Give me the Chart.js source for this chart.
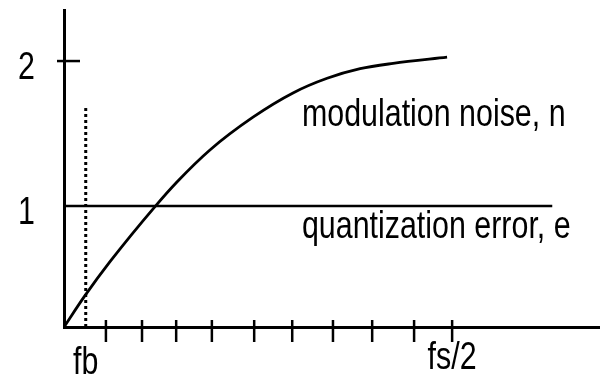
<!DOCTYPE html>
<html>
<head>
<meta charset="utf-8">
<script src="https://cdn.jsdelivr.net/npm/chart.js@4"></script>
<style>
  body { margin: 0; background: #fff; }
  #wrap { width: 600px; height: 377px; position: relative; }
</style>
</head>
<body>
<div id="wrap"><canvas id="c"></canvas></div>
<script>
// modulation noise curve
const noiseX = [0, 0.54, 1.19, 2.35, 2.91, 3.76, 4.87, 5.90, 6.78, 7.63, 8.48, 9.87];
const noiseY = [0.166, 0.382, 0.618, 0.998, 1.166, 1.387, 1.613, 1.780, 1.881, 1.947, 1.984, 2.027];

// quantization error, flat at 1
const quantX = [0, 12.58];
const quantY = [1, 1];

// fb marker (dotted)
const fbX = [0.56, 0.56];
const fbY = [0.166, 1.676];

// axis ticks and labels
const xTickValues = [1.08, 2.01, 2.89, 3.81, 4.90, 5.88, 6.93, 7.94, 9.02, 10];
const xLabelValues = [0.56, 10];
const xLabelTexts = ['fb', 'fs/2'];
const yTickValues = [2];
const yLabelValues = [1, 2];
const yLabelTexts = ['1', '2'];

// curve labels
const noteTexts = ['modulation noise, n', 'quantization error, e'];
const noteX = [6.13, 6.13];
const noteY = [1.552, 0.779];

const FONT = '38px "Liberation Sans", Arial, sans-serif';
const SQUEEZE = 0.8;   // the source lettering is a narrow face

const pts = (xs, ys) => xs.map((x, i) => ({ x, y: ys[i] }));

function narrowText(ctx, text, x, y, align) {
    ctx.save();
    ctx.translate(x, y);
    ctx.scale(SQUEEZE, 1);
    ctx.textAlign = align;
    ctx.fillText(text, 0, 0);
    ctx.restore();
}

const sketchAxes = {
    id: 'sketchAxes',
    afterDraw(chart) {
        const { ctx, scales: { x, y } } = chart;
        const ax = x.getPixelForValue(x.min);
        const ay = y.getPixelForValue(y.min);
        ctx.save();
        ctx.strokeStyle = '#000';
        ctx.lineWidth = 2.5;
        // tick marks cross the axis line
        xTickValues.forEach(v => {
            const px = x.getPixelForValue(v);
            ctx.beginPath();
            ctx.moveTo(px, ay - 7);
            ctx.lineTo(px, ay + 15);
            ctx.stroke();
        });
        yTickValues.forEach(v => {
            const py = y.getPixelForValue(v);
            ctx.beginPath();
            ctx.moveTo(ax - 7, py);
            ctx.lineTo(ax + 16, py);
            ctx.stroke();
        });

        ctx.fillStyle = '#000';
        ctx.font = FONT;
        ctx.textBaseline = 'alphabetic';
        yLabelValues.forEach((v, i) => {
            narrowText(ctx, yLabelTexts[i], ax - 29, y.getPixelForValue(v) + 18, 'right');
        });
        xLabelValues.forEach((v, i) => {
            narrowText(ctx, xLabelTexts[i], x.getPixelForValue(v), ay + (i === 0 ? 47 : 42), 'center');
        });
        noteTexts.forEach((t, i) => {
            narrowText(ctx, t, x.getPixelForValue(noteX[i]), y.getPixelForValue(noteY[i]), 'left');
        });
        ctx.restore();
    }
};

new Chart(document.getElementById('c'), {
    type: 'line',
    data: {
        datasets: [
            { data: pts(noiseX, noiseY), borderColor: '#000', borderWidth: 2.8, cubicInterpolationMode: 'monotone' },
            { data: pts(quantX, quantY), borderColor: '#000', borderWidth: 2.5 },
            { data: pts(fbX, fbY), borderColor: '#000', borderWidth: 3, borderDash: [3, 3] }
        ]
    },
    options: {
        responsive: true,
        maintainAspectRatio: false,
        animation: false,
        layout: { padding: { top: 10, right: 0, left: 0, bottom: 0 } },
        elements: { point: { radius: 0 } },
        plugins: { legend: { display: false }, tooltip: { enabled: false } },
        scales: {
            x: {
                type: 'linear',
                min: 0,
                max: 13.81,
                afterFit: s => { s.height = 50; s.paddingLeft = 0; s.paddingRight = 0; },
                grid: { display: false, drawTicks: false },
                border: { color: '#000', width: 3 },
                ticks: { display: false }
            },
            y: {
                min: 0.166,
                max: 2.352,
                afterFit: s => { s.width = 64; s.paddingTop = 0; s.paddingBottom = 0; },
                grid: { display: false, drawTicks: false },
                border: { color: '#000', width: 3 },
                ticks: { display: false }
            }
        }
    },
    plugins: [sketchAxes]
});
</script>
</body>
</html>
